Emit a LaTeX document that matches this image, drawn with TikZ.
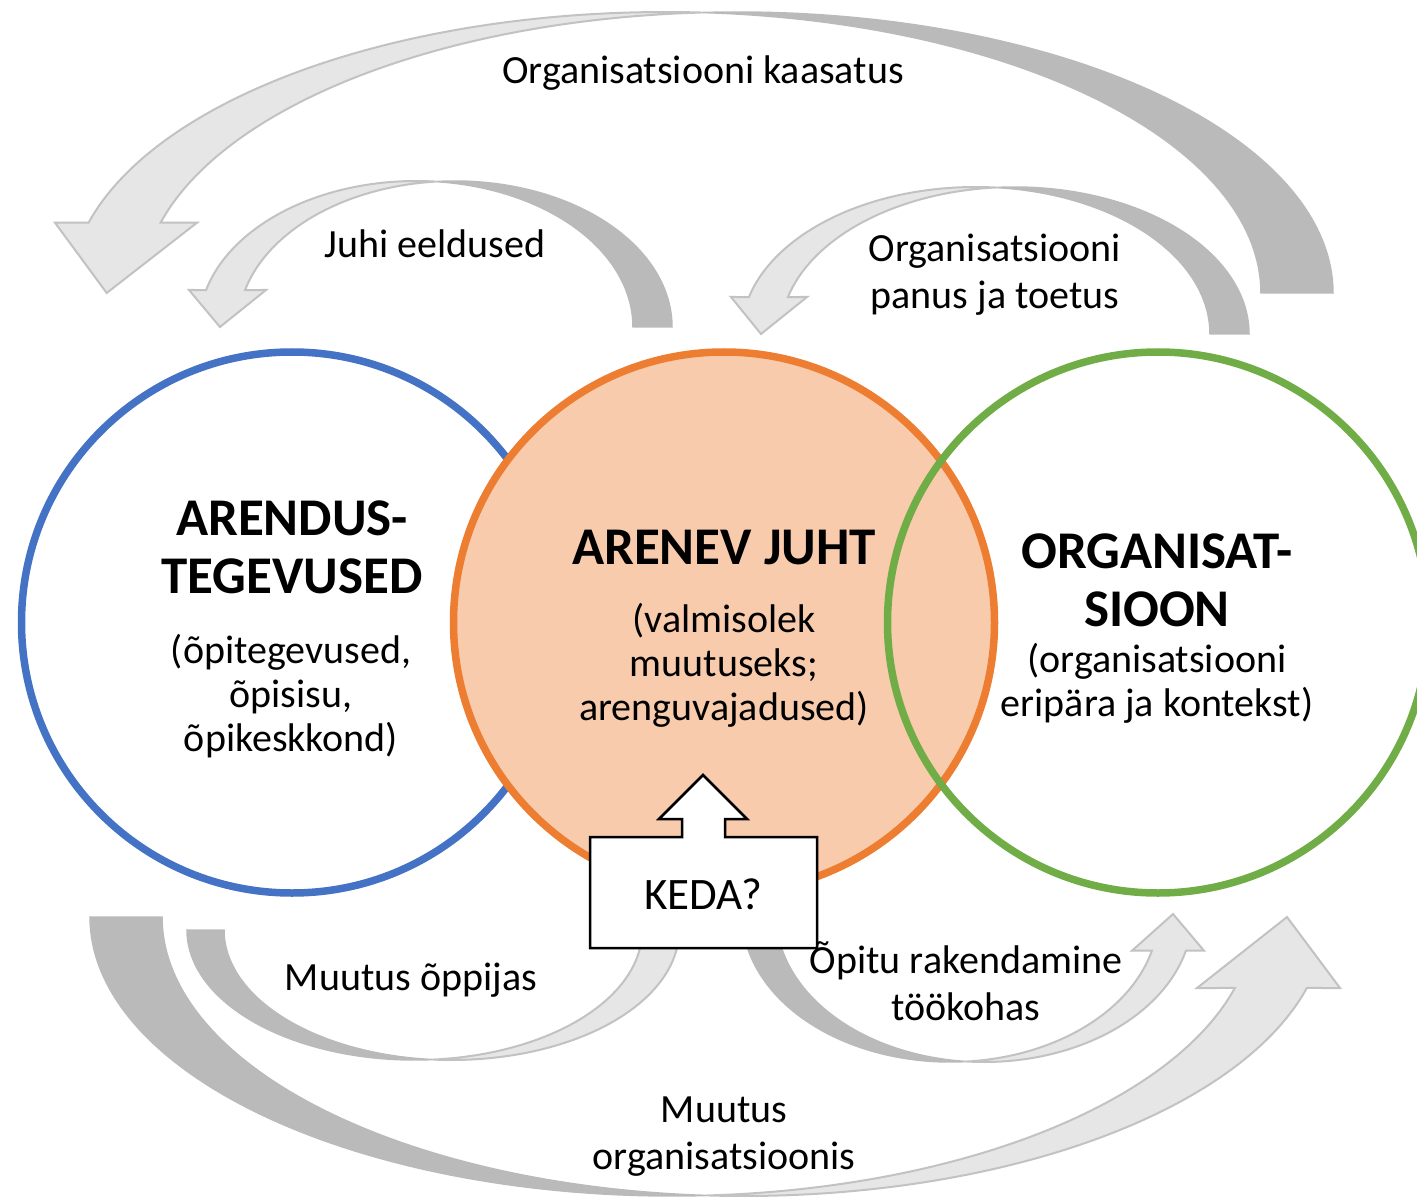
\documentclass[tikz,border=0pt]{standalone}
\usepackage{fontspec}
\setmainfont{Carlito}
\definecolor{arrdark}{HTML}{BABABA}
\definecolor{arrlight}{HTML}{E6E6E6}
\definecolor{arrline}{HTML}{C2C2C2}
\definecolor{cblue}{HTML}{4472C4}
\definecolor{corange}{HTML}{ED7D31}
\definecolor{corfill}{HTML}{F8CBAD}
\definecolor{cgreen}{HTML}{70AD47}
% curved arrow, head on the left, pointing down
% #1 cO, #2 R, #3 H, #4 base y, #5 thickness, #6 head base y, #7 head left x, #8 head right x, #9 tip x
\newcommand{\myCurvDown}[9]{%
  \pgfmathsetmacro{\myCI}{#1-#5}%
  \pgfmathsetmacro{\myAO}{acos(-#5/(2*#2))}%
  \pgfmathsetmacro{\myAI}{acos(#5/(2*#2))}%
  \pgfmathsetmacro{\myAone}{180-asin((#4-#6)/#3)}%
  \filldraw[fill=arrdark, draw=arrdark, line width=1.5pt]
    plot[domain=0:\myAO, samples=70] ({#1+#2*cos(\x)},{#4-#3*sin(\x)})
    -- plot[domain=\myAI:0, samples=70] ({\myCI+#2*cos(\x)},{#4-#3*sin(\x)}) -- cycle;
  \filldraw[fill=arrlight, draw=arrline, line width=2pt, line join=miter]
    plot[domain=\myAI:\myAone, samples=70] ({\myCI+#2*cos(\x)},{#4-#3*sin(\x)})
    -- (#7,#6) -- (#9,#4) -- (#8,#6)
    -- plot[domain=\myAone:\myAO, samples=70] ({#1+#2*cos(\x)},{#4-#3*sin(\x)}) -- cycle;
}
% curved arrow, tail on the left, head on the right pointing up
% #1 cA, #2 R, #3 H, #4 top y, #5 thickness, #6 head base y, #7 head left x, #8 head right x, #9 tip x
\newcommand{\myCurvUp}[9]{%
  \pgfmathsetmacro{\myCB}{#1+#5}%
  \pgfmathsetmacro{\myAA}{acos(#5/(2*#2))}%
  \pgfmathsetmacro{\myAB}{acos(-#5/(2*#2))}%
  \pgfmathsetmacro{\myAone}{asin((#6-#4)/#3)}%
  \filldraw[fill=arrdark, draw=arrdark, line width=1.5pt]
    plot[domain=180:\myAA, samples=70] ({#1+#2*cos(\x)},{#4+#3*sin(\x)})
    -- plot[domain=\myAB:180, samples=70] ({\myCB+#2*cos(\x)},{#4+#3*sin(\x)}) -- cycle;
  \filldraw[fill=arrlight, draw=arrline, line width=2pt, line join=miter]
    plot[domain=\myAA:\myAone, samples=70] ({#1+#2*cos(\x)},{#4+#3*sin(\x)})
    -- (#7,#6) -- (#9,#4) -- (#8,#6)
    -- plot[domain=\myAone:\myAB, samples=70] ({\myCB+#2*cos(\x)},{#4+#3*sin(\x)}) -- cycle;
}
\tikzset{
  lbl/.style={inner sep=0pt, align=center, font=\fontsize{40}{47}\selectfont},
  lbltight/.style={inner sep=0pt, align=center, font=\fontsize{40}{44}\selectfont},
  ttl/.style={inner sep=0pt, align=center, font=\fontsize{53}{58}\selectfont\bfseries},
  ring/.style={line width=7.5pt},
  callout/.style={fill=white, draw=black, line width=2.5pt, line join=miter}
}
\begin{document}
\begin{tikzpicture}[x=1pt, y=-1pt]
\useasboundingbox (0,0) rectangle (1417,1198);
% arrows above
\myCurvDown{737.3}{595.7}{281}{293}{72}{222.7}{55}{197}{106.7}
\myCurvDown{455}{217}{146}{327}{39}{290}{189}{266}{220}
\myCurvDown{1014.7}{234.3}{147}{334}{39}{297}{731}{807}{761}
% arrows below
\myCurvUp{672}{582}{279}{917}{72}{988}{1197}{1340}{1287}
\myCurvUp{414.6}{227.6}{130}{930}{37}{930}{642.2}{642.2}{642.2}
\myCurvUp{950.2}{208.2}{148}{914}{34}{950.7}{1132}{1204}{1173}
% circles
\draw[ring, draw=cblue] (292,622.5) circle[radius=270.5];
\filldraw[ring, draw=corange, fill=corfill] (724,622.5) circle[radius=270.5];
\draw[ring, draw=cgreen] (1158,622.5) circle[radius=270.5];
% callout box
\filldraw[callout] (590,837) -- (682,837) -- (682,819) -- (659,819) -- (703,775)
  -- (747,819) -- (725,819) -- (725,837) -- (817,837) -- (817,948) -- (590,948) -- cycle;
% texts
\node[lbl] (kaasatus) at (703,73) {Organisatsiooni kaasatus};
\node[lbl] (eeldused) at (435,244) {Juhi eeldused};
\node[lbl] (panus) at (995,275) {Organisatsiooni\\panus ja toetus};
\node[ttl] (arendus) at (292,547) {ARENDUS-\\TEGEVUSED};
\node[lbltight] (opi) at (291,696) {(õpitegevused,\\õpisisu,\\õpikeskkond)};
\node[ttl] (juht) at (724,548) {ARENEV JUHT};
\node[lbltight] (valmis) at (724,665) {(valmisolek\\muutuseks;\\arenguvajadused)};
\node[ttl] (org) at (1157,580) {ORGANISAT-\\SIOON};
\node[lbltight] (eripara) at (1157,683) {(organisatsiooni\\eripära ja kontekst)};
\node[inner sep=0pt, font=\fontsize{45}{50}\selectfont] (keda) at (703,894) {KEDA?};
\node[lbl] (oppijas) at (411,980) {Muutus õppijas};
\node[lbl] (rakend) at (966,981) {Õpitu rakendamine\\töökohas};
\node[lbl] (muutorg) at (724,1137) {Muutus\\organisatsioonis};
\end{tikzpicture}
\end{document}
